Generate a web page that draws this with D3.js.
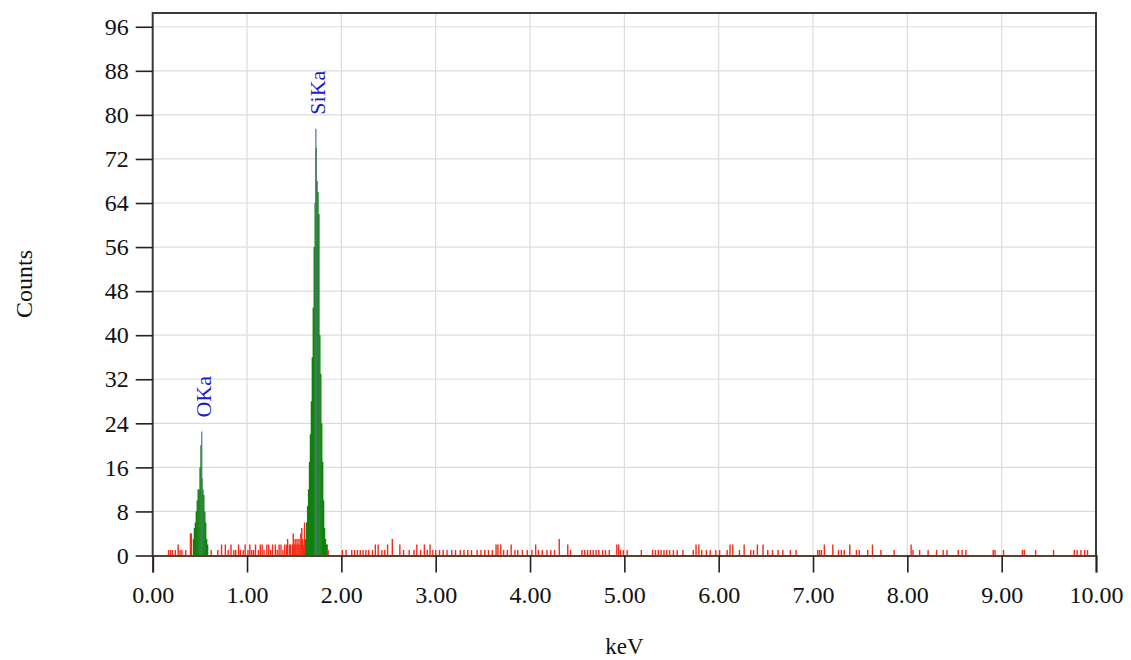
<!DOCTYPE html>
<html>
<head>
<meta charset="utf-8">
<script src="https://cdn.jsdelivr.net/npm/d3@7"></script>
<style>
  html, body { margin: 0; padding: 0; background: #fff; }
  text { font-family: "Liberation Serif", "DejaVu Serif", serif; }
</style>
</head>
<body>
<script>
// tick values
const xTicks = [0, 1, 2, 3, 4, 5, 6, 7, 8, 9, 10];
const yTicks = [0, 8, 16, 24, 32, 40, 48, 56, 64, 72, 80, 88, 96];

// background channels (keV, counts)
const noise = [
  [0.17,1],[0.19,1],[0.21,1],[0.24,1],[0.27,2],[0.29,1],[0.31,1],[0.35,1],[0.40,4],[0.41,4],
  [0.62,1],[0.69,1],[0.73,2],[0.77,2],[0.80,1],[0.83,2],[0.86,1],[0.88,1],[0.91,2],[0.93,1],[0.96,1],[0.98,2],
  [1.01,1],[1.03,2],[1.05,1],[1.07,1],[1.09,2],[1.12,1],[1.14,2],[1.16,2],[1.18,1],[1.21,2],[1.23,2],[1.25,1],
  [1.27,2],[1.30,2],[1.32,1],[1.34,2],[1.36,2],[1.38,1],[1.40,2],[1.42,2],[1.43,3],[1.45,2],[1.46,2],[1.48,2],
  [1.49,4],[1.50,2],[1.51,3],[1.52,2],[1.53,3],[1.54,2],[1.55,3],[1.56,2],[1.57,4],[1.58,5],[1.59,3],[1.60,2],[1.61,6],
  [1.85,2],[1.86,1],[2.01,1],[2.05,1],[2.11,1],[2.14,1],[2.17,1],[2.20,1],[2.23,1],[2.26,1],[2.29,1],[2.33,1],
  [2.36,2],[2.39,2],[2.43,1],[2.46,1],[2.49,2],[2.54,3],[2.62,2],[2.66,1],[2.72,1],[2.77,1],[2.80,2],[2.84,1],
  [2.88,2],[2.91,1],[2.94,2],[2.97,1],[3.00,1],[3.04,1],[3.08,1],[3.12,1],[3.17,1],[3.21,1],[3.26,1],[3.30,1],
  [3.34,1],[3.38,1],[3.44,1],[3.48,1],[3.52,1],[3.56,1],[3.60,1],[3.64,2],[3.66,2],[3.69,2],[3.72,1],[3.76,1],
  [3.80,2],[3.84,1],[3.87,1],[3.92,1],[3.97,1],[4.02,1],[4.06,2],[4.09,1],[4.13,1],[4.18,1],[4.22,1],[4.26,1],
  [4.31,3],[4.40,2],[4.43,1],[4.55,1],[4.58,1],[4.61,1],[4.64,1],[4.67,1],[4.70,1],[4.73,1],[4.77,1],[4.80,1],
  [4.84,1],[4.92,2],[4.94,2],[4.96,1],[4.99,1],[5.03,1],[5.18,1],[5.30,1],[5.33,1],[5.36,1],[5.39,1],[5.42,1],
  [5.45,1],[5.48,1],[5.52,1],[5.56,1],[5.62,1],[5.73,1],[5.76,2],[5.79,2],[5.82,1],[5.87,1],[5.91,1],[5.97,1],
  [6.01,1],[6.09,1],[6.12,2],[6.15,2],[6.22,1],[6.27,2],[6.34,1],[6.37,1],[6.41,2],[6.47,2],[6.52,1],[6.57,1],
  [6.63,1],[6.68,1],[6.76,1],[6.82,1],[7.05,1],[7.07,1],[7.09,1],[7.12,2],[7.21,2],[7.27,1],[7.30,1],[7.33,1],
  [7.39,2],[7.46,1],[7.49,1],[7.58,1],[7.63,2],[7.72,1],[7.86,1],[8.04,2],[8.06,1],[8.13,1],[8.22,1],[8.31,1],
  [8.38,1],[8.42,1],[8.54,1],[8.58,1],[8.62,1],[8.91,1],[8.93,1],[9.02,1],[9.22,1],[9.24,1],[9.36,1],[9.55,1],
  [9.77,1],[9.80,1],[9.84,1],[9.88,1],[9.91,1]
];

// peak channels, 10 eV each
const channelWidth = 0.01;
const oPeakStart = 0.43;
const oPeakCounts = [3, 5, 6, 8, 10, 12, 12, 16, 20, 14, 12, 11, 8, 6, 3, 2];
const siPeakStart = 1.62;
const siPeakCounts = [3, 6, 9, 12, 17, 22, 28, 36, 45, 56, 64, 74, 68, 66, 62, 40, 33, 24, 17, 10, 5, 3, 2];

// element markers
const markerLabels = ["OKa", "SiKa"];
const markerEnergies = [0.52, 1.73];
const markerHeights = [22.5, 77.5];

const width = 1131, height = 660;
const plotLeft = 152.7, plotRight = 1096, plotTop = 13, plotBottom = 555.5;

const svg = d3.select("body").append("svg")
  .attr("width", width)
  .attr("height", height);

const x = d3.scaleLinear().domain([0, 10]).range([plotLeft, plotRight]);
const y = d3.scaleLinear().domain([0, 98.5]).range([plotBottom, plotTop]);

// grid
svg.append("g").selectAll("line")
  .data(yTicks.filter(d => d > 0))
  .join("line")
  .attr("x1", plotLeft).attr("x2", plotRight)
  .attr("y1", d => y(d)).attr("y2", d => y(d))
  .attr("stroke", "#dcdcdc").attr("stroke-width", 1.2);
svg.append("g").selectAll("line")
  .data(xTicks.filter(d => d > 0 && d < 10))
  .join("line")
  .attr("x1", d => x(d)).attr("x2", d => x(d))
  .attr("y1", plotTop).attr("y2", plotBottom)
  .attr("stroke", "#dcdcdc").attr("stroke-width", 1.2);

// background noise
svg.append("g").selectAll("rect")
  .data(noise)
  .join("rect")
  .attr("x", d => x(d[0]) - 0.7)
  .attr("width", 1.4)
  .attr("y", d => y(d[1]))
  .attr("height", d => plotBottom - y(d[1]))
  .attr("fill", "#f42a18");

// peaks
function peak(start, counts) {
  const w = x(channelWidth) - x(0);
  svg.append("g").selectAll("rect")
    .data(counts)
    .join("rect")
    .attr("x", (d, i) => x(start + i * channelWidth) - w / 2)
    .attr("width", w + 0.4)
    .attr("y", d => y(d))
    .attr("height", d => plotBottom - y(d))
    .attr("fill", "#108010");
}
peak(oPeakStart, oPeakCounts);
peak(siPeakStart, siPeakCounts);

// markers + labels
markerLabels.forEach((lab, i) => {
  const mx = x(markerEnergies[i]);
  svg.append("line")
    .attr("x1", mx).attr("x2", mx)
    .attr("y1", plotBottom).attr("y2", y(markerHeights[i]))
    .attr("stroke", "#5868a8").attr("stroke-width", 1.2);
  svg.append("text")
    .attr("transform", `translate(${mx + 9},${y(markerHeights[i]) - 14}) rotate(-90)`)
    .attr("fill", "#1a1ad0")
    .attr("font-size", 22)
    .text(lab);
});

// frame
svg.append("path")
  .attr("d", `M${plotLeft},${plotBottom}V${plotTop}H${plotRight}V${plotBottom}`)
  .attr("fill", "none")
  .attr("stroke", "#3a3a3a")
  .attr("stroke-width", 2);

// x axis
const xAxis = svg.append("g")
  .attr("transform", `translate(0,${plotBottom})`)
  .call(d3.axisBottom(x).tickValues(xTicks).tickFormat(d => d.toFixed(2)).tickSize(17).tickPadding(13));
xAxis.select(".domain").attr("stroke", "#5a4030").attr("stroke-width", 2);
xAxis.selectAll(".tick line").attr("stroke", "#222").attr("stroke-width", 1.6);
xAxis.selectAll("text")
  .attr("font-family", "Liberation Serif")
  .attr("font-size", 24)
  .attr("fill", "#111");

// y axis
const yAxis = svg.append("g")
  .attr("transform", `translate(${plotLeft},0)`)
  .call(d3.axisLeft(y).tickValues(yTicks).tickSize(17).tickPadding(7));
yAxis.select(".domain").remove();
yAxis.selectAll(".tick line").attr("stroke", "#222").attr("stroke-width", 1.6);
yAxis.selectAll("text")
  .attr("font-family", "Liberation Serif")
  .attr("font-size", 24)
  .attr("fill", "#111");

// axis titles
svg.append("text")
  .attr("x", (plotLeft + plotRight) / 2)
  .attr("y", 654)
  .attr("text-anchor", "middle")
  .attr("font-size", 23)
  .attr("fill", "#111")
  .text("keV");
svg.append("text")
  .attr("transform", "translate(32,284) rotate(-90)")
  .attr("text-anchor", "middle")
  .attr("font-size", 24)
  .attr("fill", "#111")
  .text("Counts");
</script>
</body>
</html>
